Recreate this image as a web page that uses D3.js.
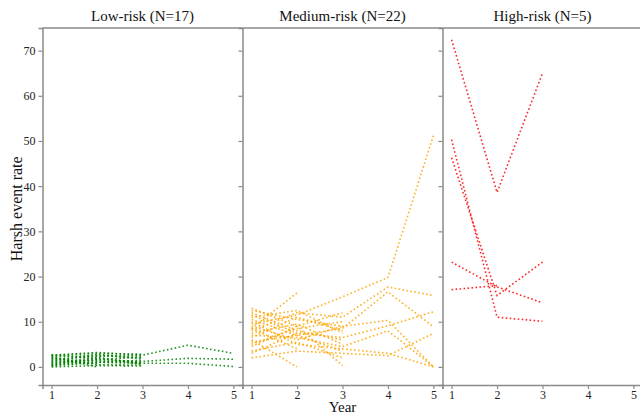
<!DOCTYPE html>
<html>
<head>
<meta charset="utf-8">
<script src="https://cdn.jsdelivr.net/npm/d3@7"></script>
<style>
  body { margin: 0; background: #fff; }
  svg { display: block; }
  svg text { font-family: 'Liberation Serif', 'Times New Roman', Times, serif !important; }
</style>
</head>
<body>
<svg id="chart" width="640" height="415"></svg>
<script>
// data: rate per driver per year
const years = [1, 2, 3, 4, 5];
const yTicks = [0, 10, 20, 30, 40, 50, 60, 70];

const lowRisk = [
  [2.6, 3.2, 2.6, 4.8, 3.0],
  [1.0, 1.5, 1.2, 1.9, 1.7],
  [0.5, 1.0, 0.8, 0.8, 0.1],
  [2.5, 3.0, 2.8],
  [0.0, 0.3, 0.2],
  [2.2, 2.5, 2.0],
  [1.8, 1.2, 0.9],
  [0.8, 1.6, 2.2],
  [2.0, 0.5, 0.4],
  [1.2, 2.8, 1.8],
  [0.2, 1.0, 1.5],
  [2.7, 1.8],
  [1.4, 0.8],
  [0.6, 2.2, 0.5],
  [2.3, 0.0],
  [1.6, 2.4, 2.5],
  [0.3, 1.9, 1.0]
];

const mediumRisk = [
  [9.5, 11.5, 15.5, 19.8, 51.2],
  [8.0, 12.0, 11.0, 17.7, 15.8],
  [5.5, 7.0, 8.5, 16.6, 8.9],
  [12.5, 10.5, 9.0, 10.3, 0.0],
  [3.0, 7.5, 6.5, 9.1, 12.2],
  [2.0, 3.5, 3.0, 2.5, 7.4],
  [7.0, 6.5, 4.5, 8.0, 0.0],
  [10.0, 5.0, 4.0, 3.0, 0.0],
  [13.0, 9.0, 0.3],
  [8.5, 16.4],
  [6.0, 0.0],
  [11.0, 12.5, 7.5],
  [9.0, 6.0, 9.0],
  [5.0, 8.5, 10.0],
  [12.0, 8.0, 6.0],
  [7.5, 9.5, 5.0],
  [3.5, 5.5, 2.0],
  [10.5, 7.0, 3.5],
  [6.5, 11.0, 8.0],
  [4.5, 9.0, 12.0],
  [8.5, 4.0],
  [11.5, 7.5]
];

const highRisk = [
  [72.4, 38.6, 65.0],
  [50.3, 11.0, 10.1],
  [46.3, 15.8, 23.2],
  [23.2, 17.7, 14.2],
  [17.1, 18.0]
];

const groups = ['Low-risk (N=17)', 'Medium-risk (N=22)', 'High-risk (N=5)'];
const groupData = [lowRisk, mediumRisk, highRisk];
const groupColors = ['#008000', '#ffa500', '#ff0000'];

const margin = { top: 28, left: 42.5, bottom: 30 };
const panelW = 200;
const h = 415 - margin.top - margin.bottom;

const svg = d3.select('#chart');

const x = d3.scaleLinear().domain([0.8, 5.2]).range([0, panelW]);
const y = d3.scaleLinear().domain([-4, 75]).range([h, 0]);

const line = d3.line()
  .x((d, i) => x(years[i]))
  .y(d => y(d));

groupData.forEach((series, gi) => {
  const g = svg.append('g')
    .attr('transform', `translate(${margin.left + gi * panelW},${margin.top})`);

  g.selectAll('.rate-line')
    .data(series)
    .enter()
    .append('path')
    .attr('class', 'rate-line')
    .attr('d', line)
    .attr('fill', 'none')
    .attr('stroke', groupColors[gi])
    .attr('stroke-width', 1.6)
    .attr('stroke-dasharray', '1.6,2.4')
    .attr('opacity', 0.85);

  const axisY = d3.axisLeft(y).tickValues(yTicks).tickSize(4).tickPadding(3)
    .tickFormat(gi === 0 ? d3.format('d') : '');
  g.append('g').attr('class', 'axis axis-y').call(axisY);

  const axisX = d3.axisBottom(x).tickValues(years).tickSize(4).tickPadding(1)
    .tickFormat(d3.format('d'));
  g.append('g').attr('class', 'axis axis-x')
    .attr('transform', `translate(0,${h})`).call(axisX);

  // top spine
  g.append('line')
    .attr('x1', 0).attr('x2', panelW)
    .attr('y1', 0).attr('y2', 0)
    .attr('stroke', '#8a8a8a').attr('stroke-width', 1.5);

  g.append('text')
    .attr('x', panelW / 2)
    .attr('y', -7)
    .attr('text-anchor', 'middle')
    .attr('font-size', 15)
    .attr('fill', '#111')
    .text(groups[gi]);
});

svg.selectAll('.axis path').attr('stroke', '#8a8a8a').attr('stroke-width', 1.5);
svg.selectAll('.axis line').attr('stroke', '#8a8a8a').attr('stroke-width', 1.2);
svg.selectAll('.axis text')
  .attr('font-size', 12)
  .attr('fill', '#222');

svg.append('text')
  .attr('x', margin.left + panelW * 1.5)
  .attr('y', 412)
  .attr('text-anchor', 'middle')
  .attr('font-size', 15)
  .attr('fill', '#111')
  .text('Year');

svg.append('text')
  .attr('transform', `translate(22,${margin.top + y(35)}) rotate(-90)`)
  .attr('text-anchor', 'middle')
  .attr('font-size', 16)
  .attr('fill', '#111')
  .text('Harsh event rate');
</script>
</body>
</html>
